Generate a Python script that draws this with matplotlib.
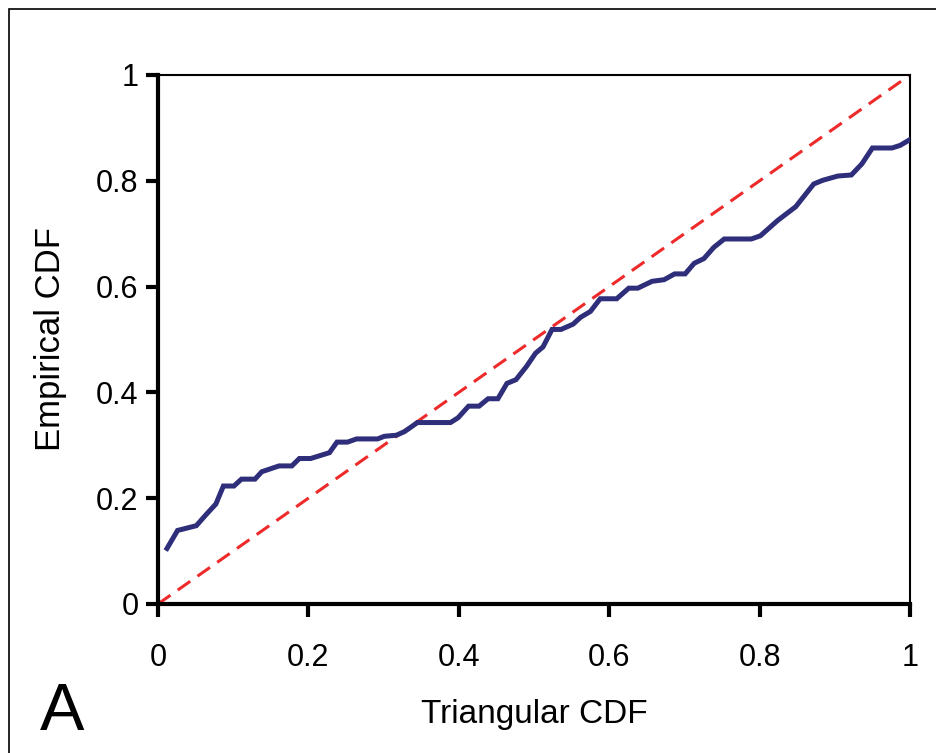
import numpy as np
import matplotlib.pyplot as plt
from matplotlib.patches import Rectangle

plt.rcParams['font.family'] = ['Liberation Sans', 'DejaVu Sans']

# empirical CDF vs triangular CDF
tri_cdf = [0.012, 0.026, 0.051, 0.064, 0.077, 0.087, 0.101, 0.111, 0.129, 0.138,
           0.161, 0.178, 0.188, 0.203, 0.228, 0.238, 0.252, 0.264, 0.292, 0.301,
           0.317, 0.328, 0.345, 0.389, 0.399, 0.413, 0.427, 0.439, 0.452, 0.464,
           0.476, 0.490, 0.502, 0.512, 0.524, 0.536, 0.552, 0.562, 0.575, 0.588,
           0.610, 0.626, 0.638, 0.657, 0.673, 0.687, 0.701, 0.713, 0.726, 0.739,
           0.753, 0.789, 0.801, 0.824, 0.848, 0.872, 0.884, 0.904, 0.922, 0.936,
           0.950, 0.976, 0.987, 1.000]
emp_cdf = [0.105, 0.139, 0.148, 0.169, 0.189, 0.223, 0.223, 0.236, 0.236, 0.250,
           0.261, 0.261, 0.275, 0.275, 0.286, 0.306, 0.306, 0.312, 0.312, 0.317,
           0.319, 0.326, 0.343, 0.343, 0.352, 0.374, 0.374, 0.388, 0.388, 0.417,
           0.424, 0.449, 0.474, 0.486, 0.519, 0.519, 0.529, 0.542, 0.553, 0.577,
           0.577, 0.597, 0.597, 0.610, 0.613, 0.624, 0.624, 0.644, 0.653, 0.674,
           0.690, 0.690, 0.696, 0.725, 0.751, 0.794, 0.801, 0.809, 0.811, 0.832,
           0.862, 0.862, 0.867, 0.878]
ref_line = [0, 1]
ticks = [0, 0.2, 0.4, 0.6, 0.8, 1]
tick_labels = ['0', '0.2', '0.4', '0.6', '0.8', '1']

fig = plt.figure(figsize=(9.37, 7.53), dpi=100)
ax = fig.add_axes([0.1686, 0.1979, 0.8026, 0.7025])

ax.plot(ref_line, ref_line, color='#ee2a2a', lw=2.2, ls=(0, (5, 2.9)), zorder=2)
ax.plot(tri_cdf, emp_cdf, color='#2e2e7a', lw=3.6, zorder=3,
        solid_joinstyle='miter')

ax.set_xlim(0, 1)
ax.set_ylim(0, 1)
ax.set_xticks(ticks)
ax.set_xticklabels(tick_labels)
ax.set_yticks(ticks)
ax.set_yticklabels(tick_labels)
ax.tick_params(direction='out', length=9, width=3, labelsize=22)
ax.tick_params(axis='x', pad=19)
ax.tick_params(axis='y', pad=5)

for s in ['left', 'bottom']:
    ax.spines[s].set_linewidth(3)
for s in ['top', 'right']:
    ax.spines[s].set_linewidth(1.5)

ax.set_xlabel('Triangular CDF', fontsize=24, labelpad=19)
ax.set_ylabel('Empirical CDF', fontsize=25, labelpad=21)

fig.text(0.043, 0.0305, 'A', fontsize=48)

# thin frame around the whole figure
fig.patches.append(Rectangle((9 / 937, -0.01), 1.0, 1 - 8.5 / 753 + 0.01,
                             transform=fig.transFigure, fill=False,
                             edgecolor='black', lw=1.2))

fig.savefig('out.png', dpi=100)
